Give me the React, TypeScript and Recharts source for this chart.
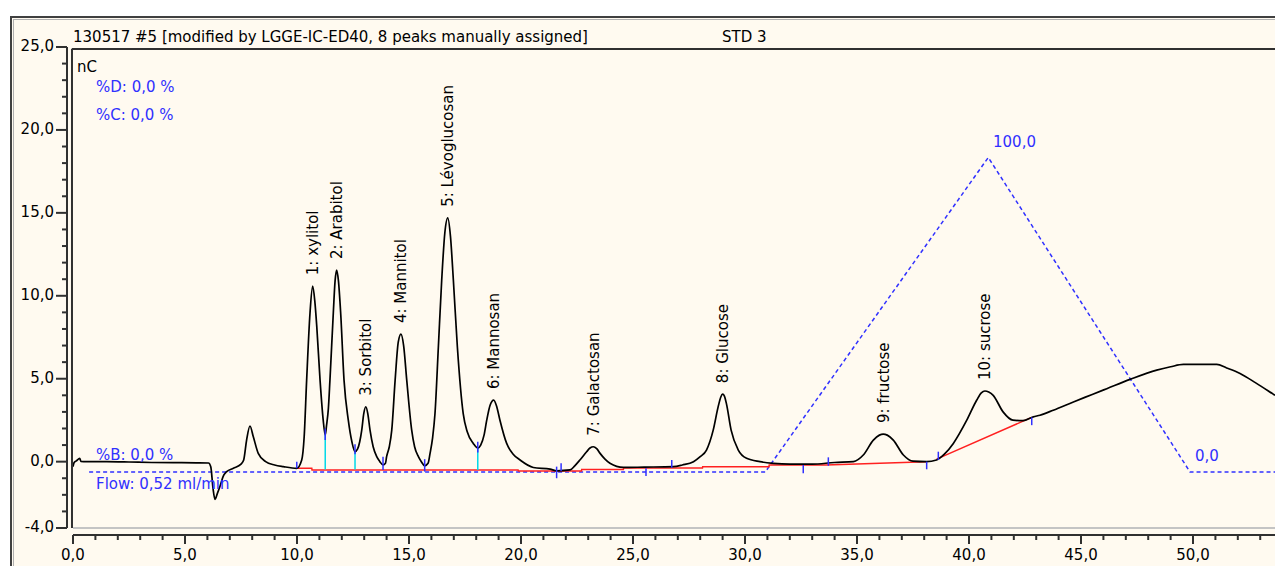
import React from 'react';
import { ComposedChart, Line, XAxis, YAxis, ReferenceLine, Scatter } from 'recharts';

// ---- data (time in min, signal in nC) ----
const trace: [number, number][] = [
  [0.0, -0.3], [0.05, -0.05], [0.15, 0.05], [0.3, 0.2], [0.35, 0.02], [0.6, 0.0], [1.5, 0.0], [2.5, -0.02],
  [3.5, -0.05], [4.5, -0.06], [5.5, -0.07], [6.05, -0.08], [6.15, -0.3], [6.25, -1.6], [6.34, -2.27],
  [6.45, -1.9], [6.56, -1.5], [6.7, -0.9], [6.86, -0.6], [7.16, -0.4], [7.5, -0.15], [7.62, 0.1],
  [7.75, 1.3], [7.9, 2.15], [8.05, 1.5], [8.27, 0.5], [8.6, 0.0], [9.0, -0.2], [9.39, -0.3], [9.99, -0.4],
  [10.21, 0.1], [10.32, 1.5], [10.43, 4.9], [10.58, 8.95], [10.7, 10.58], [10.8, 9.6], [10.88, 8.2],
  [11.03, 4.9], [11.17, 2.5], [11.26, 1.6],
  [11.32, 2.2], [11.4, 3.2], [11.47, 4.9], [11.62, 8.95], [11.7, 10.9], [11.77, 11.55], [11.85, 10.9],
  [11.95, 8.95], [12.1, 4.9], [12.29, 2.5], [12.45, 1.2], [12.59, 0.6],
  [12.7, 0.75], [12.8, 1.2], [12.89, 1.9], [12.98, 2.9], [13.07, 3.31], [13.16, 2.9], [13.26, 1.9],
  [13.4, 0.9], [13.56, 0.3], [13.7, 0.0], [13.84, -0.2],
  [13.95, -0.1], [14.0, 0.3], [14.12, 0.9], [14.23, 1.9], [14.38, 4.9], [14.52, 7.2], [14.64, 7.69],
  [14.76, 7.0], [14.9, 4.9], [15.12, 1.9], [15.25, 0.9], [15.42, 0.3], [15.55, 0.0], [15.7, -0.25],
  [15.85, -0.1], [15.94, 0.5], [16.05, 1.4], [16.16, 2.9], [16.31, 6.9], [16.46, 10.95], [16.6, 13.8],
  [16.73, 14.7], [16.85, 13.6], [16.98, 10.95], [17.16, 6.9], [17.42, 2.9], [17.6, 1.8], [17.87, 1.1],
  [18.07, 0.82],
  [18.2, 1.0], [18.35, 1.6], [18.47, 2.5], [18.62, 3.4], [18.78, 3.71], [18.92, 3.3], [19.06, 2.5],
  [19.36, 1.1], [19.65, 0.45], [19.96, 0.1], [20.55, -0.35], [21.3, -0.45], [21.6, -0.55], [22.19, -0.5],
  [22.4, -0.25], [22.63, 0.1], [22.93, 0.6], [23.08, 0.82], [23.23, 0.9], [23.38, 0.78], [23.53, 0.5],
  [23.75, 0.15], [23.97, -0.1], [24.57, -0.35], [25.5, -0.33], [26.8, -0.3],
  [27.2, -0.2], [27.7, 0.0], [28.0, 0.3], [28.28, 0.7], [28.58, 1.9], [28.8, 3.3], [28.92, 3.9],
  [29.0, 4.07], [29.08, 3.95], [29.17, 3.5], [29.38, 1.9], [29.7, 0.7], [30.07, 0.2], [30.67, 0.0],
  [31.26, -0.1], [32.0, -0.15], [33.0, -0.15], [34.0, -0.05], [34.84, 0.0],
  [35.28, 0.4], [35.73, 1.3], [36.0, 1.6], [36.17, 1.66], [36.35, 1.6], [36.62, 1.3], [37.07, 0.4],
  [37.5, 0.03], [38.1, 0.0], [38.55, 0.1],
  [38.9, 0.45], [39.3, 1.1], [39.9, 2.5], [40.34, 3.7], [40.55, 4.15], [40.71, 4.26], [40.88, 4.2],
  [41.08, 4.0], [41.52, 3.0], [41.96, 2.5], [42.41, 2.47], [42.87, 2.7], [43.17, 2.8], [43.76, 3.1],
  [44.66, 3.6], [45.5, 4.05], [46.15, 4.4], [47.19, 4.96], [48.38, 5.52], [49.0, 5.72], [49.57, 5.86],
  [51.06, 5.86], [51.5, 5.65], [52.1, 5.32], [52.8, 4.75], [53.58, 4.07], [53.66, 4.0],
];

const baselineRed: [number, number | null][] = [
  [9.99, -0.4], [10.66, -0.4], [10.67, -0.5], [19.87, -0.51], [19.88, -0.57], [22.7, -0.57],
  [22.71, -0.47], [24.57, -0.47], [24.58, -0.39], [28.1, -0.39], [28.11, -0.31], [31.07, -0.31],
  [31.08, -0.2], [33.6, -0.2], [38.1, 0.0], [38.3, null], [38.55, 0.15], [42.8, 2.67],
];

const gradientB: [number, number][] = [
  [0.72, -0.63], [30.9, -0.63], [40.86, 18.34], [49.87, -0.63], [53.66, -0.63],
];

const peakNames = [
  '1: xylitol', '2: Arabitol', '3: Sorbitol', '4: Mannitol', '5: Lévoglucosan',
  '6: Mannosan', '7: Galactosan', '8: Glucose', '9: fructose', '10: sucrose',
];
const peakTimes = [10.7, 11.77, 13.07, 14.64, 16.73, 18.78, 23.23, 29.0, 36.17, 40.71];
const peakHeights = [10.58, 11.55, 3.31, 7.69, 14.7, 3.71, 0.9, 4.07, 1.66, 4.26];

// valley drop lines (cyan): time, top, bottom
const dropTimes = [11.26, 12.59, 18.07];
const dropTops = [1.6, 0.6, 0.82];
const dropBottoms = [-0.48, -0.48, -0.5];

// peak delimiter marks (blue): time, y1, y2
const markTimes = [9.99, 11.26, 12.59, 13.84, 15.7, 18.07, 21.59, 21.79, 25.58, 26.73, 32.6, 33.72, 38.11, 38.63, 42.8];
const markLow = [-0.4, 1.3, 0.45, -0.5, -0.6, 0.55, -1.0, -0.57, -0.87, -0.37, -0.7, -0.25, -0.46, 0.1, 2.2];
const markHigh = [0.0, 2.0, 1.05, 0.3, 0.15, 1.2, -0.3, -0.1, -0.4, 0.1, -0.2, 0.26, 0.0, 0.6, 2.67];

const xTicks = Array.from({ length: 54 }, (_, i) => i);
const yTicks = Array.from({ length: 30 }, (_, i) => i - 4);

const FONT = 'DejaVu Sans';
const FS = 15;
const BLUE = '#3030ff';

const traceData = trace.map(([x, y]) => ({ x, y }));
const redData = baselineRed.map(([x, y]) => ({ x, y }));
const gradData = gradientB.map(([x, y]) => ({ x, y }));
const peakData = peakNames.map((name, i) => ({ x: peakTimes[i], y: peakHeights[i], name }));

const fmt = (v: number) => v.toFixed(1).replace('.', ',');

const XTick = (props: any) => {
  const { x, y, payload } = props;
  const v = payload.value;
  const major = v % 5 === 0;
  return (
    <g>
      <line x1={x} x2={x} y1={y} y2={y + (major ? 9 : 5)} stroke="#303030" strokeWidth={2} />
      {major && (
        <text x={x} y={y + 20} dy="0.35em" textAnchor="middle" fontFamily={FONT} fontSize={FS} fill="#000">
          {fmt(v)}
        </text>
      )}
    </g>
  );
};

const YTick = (props: any) => {
  const { x, y, payload } = props;
  const v = payload.value;
  const major = v % 5 === 0 || v === -4;
  const ax = x - 6;
  return (
    <g>
      <line x1={ax - (major ? 11 : 5)} x2={ax} y1={y} y2={y} stroke="#303030" strokeWidth={2} />
      {major && (
        <text x={ax - 13} y={y - 1} dy="0.35em" textAnchor="end" fontFamily={FONT} fontSize={FS} fill="#000">
          {fmt(v)}
        </text>
      )}
    </g>
  );
};

const PeakLabel = (props: any) => {
  const { cx, cy, payload } = props;
  return (
    <text
      transform={`translate(${cx + 5.5},${cy - 11}) rotate(-90)`}
      fontFamily={FONT}
      fontSize={FS}
      fill="#000"
    >
      {payload.name}
    </text>
  );
};

export default function App() {
  return (
    <div style={{ position: 'absolute', left: 0, top: 0, width: 1275, height: 566, overflow: 'hidden', background: '#fff' }}>
      {/* panel background */}
      <div style={{ position: 'absolute', left: 10, top: 16, width: 1300, height: 600, background: '#fffaf0', borderLeft: '2px solid #404040', borderTop: '2px solid #404040' }} />
      <div style={{ position: 'absolute', left: 13, top: 19, width: 1300, height: 600, borderLeft: '1px solid #b0b0b0', borderTop: '1px solid #b0b0b0' }} />
      <div style={{ position: 'absolute', left: 0, top: 0 }}>
        <ComposedChart width={1275} height={566} margin={{ top: 47, right: 0, bottom: 0, left: 0 }}>
          <XAxis
            dataKey="x"
            type="number"
            domain={[0, 53.66]}
            allowDataOverflow
            ticks={xTicks}
            interval={0}
            height={31}
            tickSize={0}
            tickMargin={0}
            tickLine={false}
            axisLine={{ stroke: '#303030', strokeWidth: 2 }}
            tick={<XTick />}
          />
          <YAxis
            type="number"
            domain={[-4.422, 25]}
            allowDataOverflow
            ticks={yTicks}
            interval={0}
            width={73}
            tickSize={0}
            tickMargin={0}
            tickLine={false}
            axisLine={false}
            tick={<YTick />}
          />
          {/* y axis line */}
          <ReferenceLine
            segment={[{ x: -0.268, y: -4 }, { x: -0.268, y: 25 }]}
            stroke="#303030"
            strokeWidth={2}
            ifOverflow="visible"
          />
          {/* plot frame */}
          <ReferenceLine
            segment={[{ x: -0.045, y: -4 }, { x: -0.045, y: 24.9 }]}
            stroke="#303030"
            strokeWidth={2}
            ifOverflow="visible"
          />
          <ReferenceLine y={-4} stroke="#c4c4c4" strokeWidth={2} ifOverflow="visible" />

          <Line data={gradData} dataKey="y" type="linear" stroke={BLUE} strokeWidth={1.5} strokeDasharray="4 3" dot={false} activeDot={false} isAnimationActive={false} />
          <Line data={redData} dataKey="y" type="linear" stroke="#ff2020" strokeWidth={1.5} dot={false} activeDot={false} isAnimationActive={false} />
          {dropTimes.map((t, i) => (
            <ReferenceLine key={`d${i}`} segment={[{ x: t, y: dropBottoms[i] }, { x: t, y: dropTops[i] }]} stroke="#00d8e8" strokeWidth={1.5} />
          ))}
          <Line data={traceData} dataKey="y" type="monotone" stroke="#000" strokeWidth={1.7} dot={false} activeDot={false} isAnimationActive={false} />
          {markTimes.map((t, i) => (
            <ReferenceLine key={`m${i}`} segment={[{ x: t, y: markLow[i] }, { x: t, y: markHigh[i] }]} stroke={BLUE} strokeWidth={1.5} />
          ))}
          <Scatter data={peakData} dataKey="y" shape={<PeakLabel />} isAnimationActive={false} />
        </ComposedChart>
      </div>
      <svg width={1275} height={566} style={{ position: 'absolute', left: 0, top: 0, pointerEvents: 'none' }}>
        <line x1={72} x2={1275} y1={49} y2={49} stroke="#303030" strokeWidth={2} />
        <text x={73} y={37} dy="0.35em" fontFamily={FONT} fontSize={FS} fill="#000">
          130517 #5 [modified by LGGE-IC-ED40, 8 peaks manually assigned]
        </text>
        <text x={722} y={37} dy="0.35em" fontFamily={FONT} fontSize={FS} fill="#000">STD 3</text>
        <text x={77} y={67} dy="0.35em" fontFamily={FONT} fontSize={FS} fill="#000">nC</text>
        <text x={96} y={87} dy="0.35em" fontFamily={FONT} fontSize={FS} fill={BLUE}>%D: 0,0 %</text>
        <text x={96} y={115} dy="0.35em" fontFamily={FONT} fontSize={FS} fill={BLUE}>%C: 0,0 %</text>
        <text x={96} y={455} dy="0.35em" fontFamily={FONT} fontSize={FS} fill={BLUE}>%B: 0,0 %</text>
        <text x={96} y={484} dy="0.35em" fontFamily={FONT} fontSize={FS} fill={BLUE}>Flow: 0,52 ml/min</text>
        <text x={993} y={142} dy="0.35em" fontFamily={FONT} fontSize={FS} fill={BLUE}>100,0</text>
        <text x={1195} y={456} dy="0.35em" fontFamily={FONT} fontSize={FS} fill={BLUE}>0,0</text>
      </svg>
    </div>
  );
}
